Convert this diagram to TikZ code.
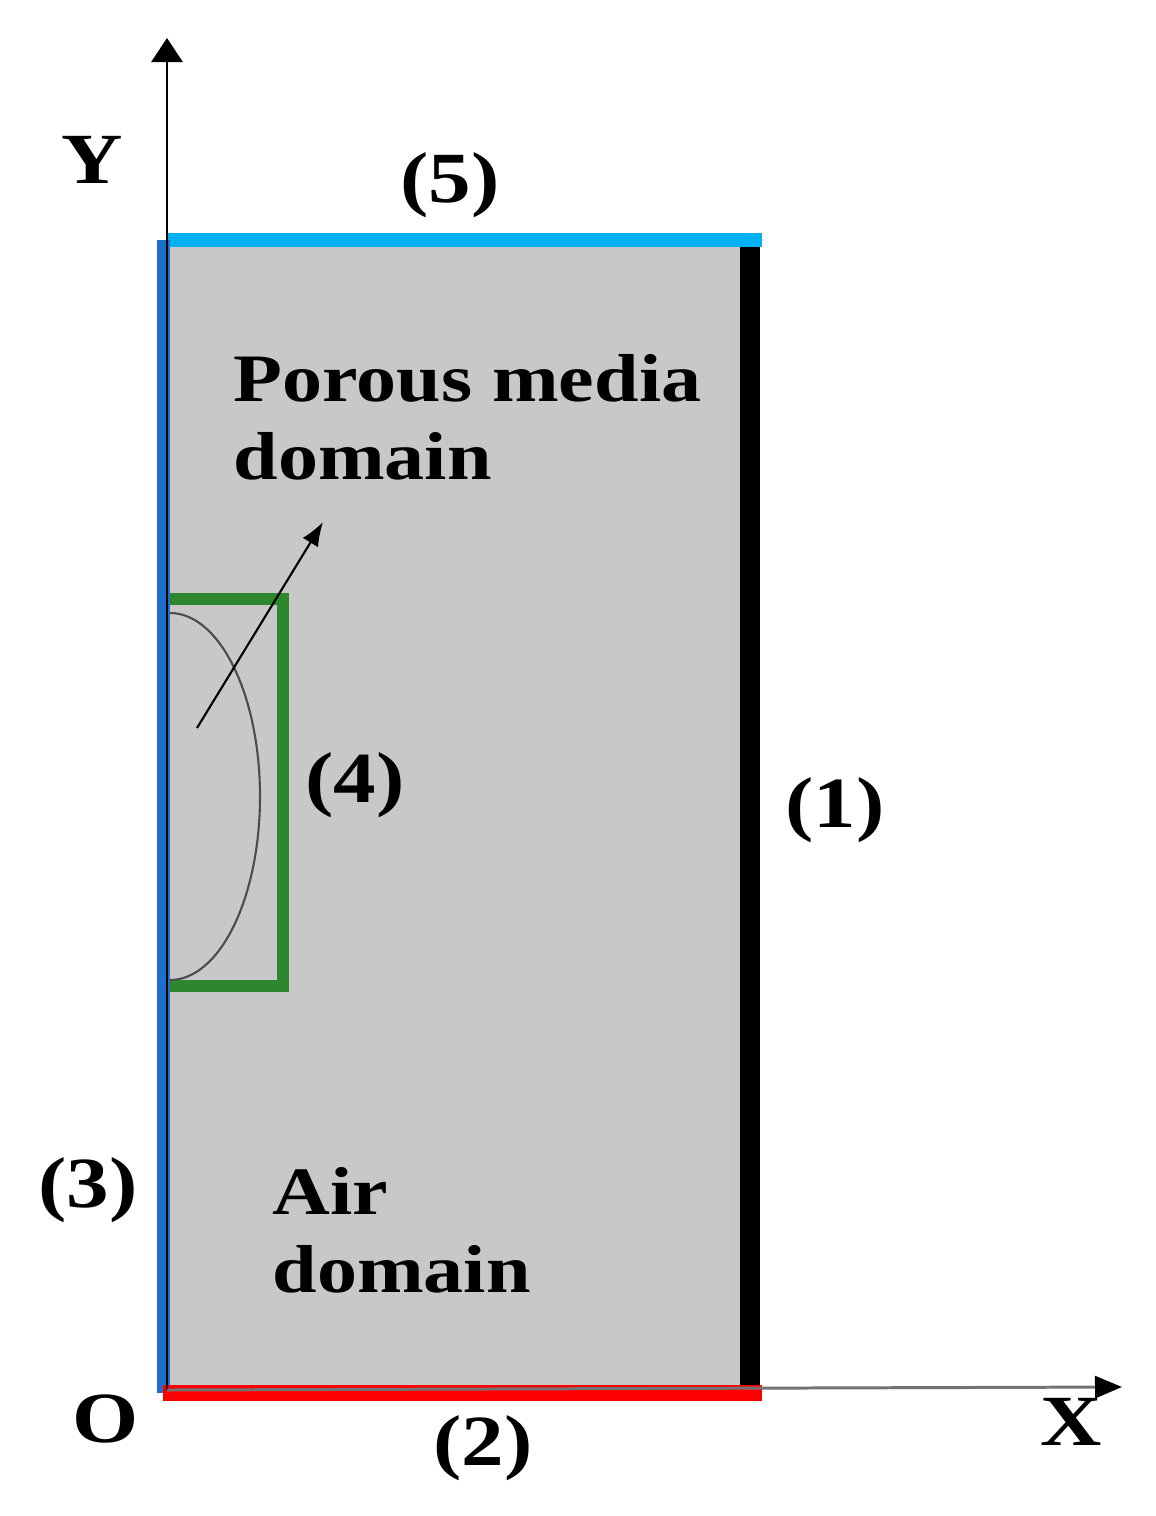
\documentclass[tikz,border=0pt]{standalone}
\usepackage{fontspec}
\setmainfont[FakeStretch=1.18]{Liberation Serif}
\usepackage{tikz}
\usetikzlibrary{arrows.meta}
\definecolor{cellgray}{HTML}{C8C8C8}
\definecolor{topcyan}{HTML}{00B0F0}
\definecolor{leftblue}{HTML}{1A70CC}
\definecolor{cellgreen}{HTML}{2E862E}
\tikzstyle{lbl}=[inner sep=0pt, font=\fontsize{20.5}{24}\selectfont\bfseries, text=black]
\tikzstyle{dom}=[inner sep=0pt, align=left, anchor=north west, font=\fontsize{19.3}{22.2}\selectfont\bfseries, text=black]
\tikzstyle{axis}=[line width=0.85pt, draw=black]

\begin{document}
\begin{tikzpicture}[x=0.1mm, y=-0.1mm]
\useasboundingbox (0,0) rectangle (1155,1516);
\coordinate (O) at (167,1390);
\coordinate (Ytip) at (167,38);
\coordinate (Xtip) at (1122,1387);
\coordinate (TL) at (167,240);
\coordinate (TR) at (762,240);
\coordinate (BR) at (762,1390);
% domain
\fill[cellgray] (170,247) rectangle (742,1386);
% (4) box and bubble
\draw[cellgreen, line width=1.2mm] (170,599) -- (283,599) -- (283,986) -- (170,986);
\draw[black!70, line width=0.6pt] (170,613) arc[start angle=90, end angle=-90, x radius=9mm, y radius=18.35mm];
\coordinate (a1) at (197,728);
\coordinate (a2) at (323,522);
\draw[line width=0.6pt, -{Latex[length=2.4mm,width=1.8mm]}] (a1) -- (a2);
% boundaries
\draw[topcyan, line width=1.4mm] (TL) -- (TR);
\draw[leftblue, line width=1.3mm] (163.5,240) -- (163.5,1393);
\draw[black, line width=2mm] (750,247) -- (750,1386);
\draw[red, line width=1.6mm] (163,1393) -- (762,1393);
% axes
\draw[axis, -{Triangle[length=2.4mm,width=3.1mm]}] (O) -- (Ytip);
\draw[axis, draw=black!55, -{Triangle[length=2.7mm,width=2.2mm,color=black,fill=black]}] (O) -- (Xtip);
% labels
\node[lbl] (ylab) at (92,160) {Y};
\node[lbl] (xlab) at (1071,1422) {X};
\node[lbl] (olab) at (106,1419) {O};
\node[lbl] (b5) at (450,185) {(5)};
\node[lbl] (b4) at (355,785) {(4)};
\node[lbl] (b1) at (835,810) {(1)};
\node[lbl] (b3) at (88,1190) {(3)};
\node[lbl] (b2) at (483,1448) {(2)};
\node[dom] (porous) at (233,354) {Porous media\\domain};
\node[dom] (air) at (272,1167) {Air\\domain};
\end{tikzpicture}
\end{document}
